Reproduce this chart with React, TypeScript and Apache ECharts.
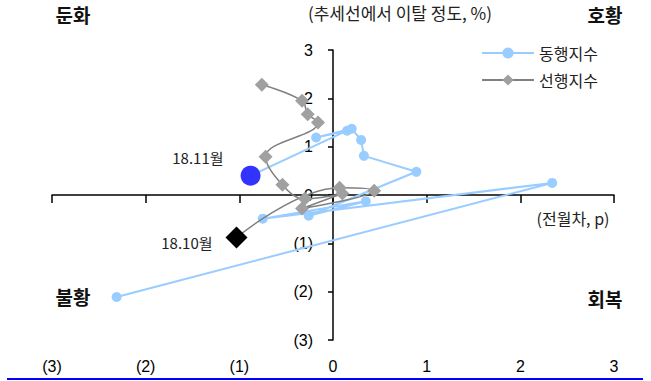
import React, { useEffect, useRef } from "react";
import * as echarts from "echarts";

const coincidentX = [-2.31, 2.34, -0.75, 0.35, -0.26, 0.89, 0.33, 0.30, 0.20, -0.18, 0.15, -0.88];
const coincidentY = [-2.11, 0.25, -0.49, -0.13, -0.43, 0.48, 0.81, 1.14, 1.37, 1.19, 1.33, 0.40];
const leadingX = [-0.76, -0.33, -0.27, -0.16, -0.72, -0.54, -0.30, 0.10, -0.33, 0.44, 0.07, -1.03];
const leadingY = [2.28, 1.95, 1.67, 1.50, 0.79, 0.21, -0.08, 0.03, -0.28, 0.09, 0.15, -0.88];
const seriesNames = ["동행지수", "선행지수"];
const lastLabels = ["18.11월", "18.10월"];
const axisTicks = [-3, -2, -1, 0, 1, 2, 3];

const fmt = (v: number) => (v < 0 ? `(${-v})` : `${v}`);
const FONT = "'Liberation Sans Narrow', 'Liberation Sans', Arial, sans-serif";
const KFONT = "'Noto Sans CJK KR', 'Noto Sans', sans-serif";

export default function App() {
  const ref = useRef<HTMLDivElement>(null);
  useEffect(() => {
    if (!ref.current) return;
    const chart = echarts.init(ref.current, undefined, { renderer: "svg" });
    const n1 = coincidentX.length;
    const blueData = coincidentX.map((x, i) => {
      if (i === n1 - 1) {
        return {
          value: [x, coincidentY[i]],
          symbolSize: 20,
          itemStyle: { color: "#3333ff" },
          label: {
            show: true,
            formatter: lastLabels[0],
            position: "left",
            distance: 17,
            offset: [0, -18],
            fontFamily: KFONT,
            fontSize: 15,
            color: "#222",
          },
        };
      }
      return [x, coincidentY[i]];
    });
    const n2 = leadingX.length;
    const grayData = leadingX.map((x, i) => {
      if (i === n2 - 1) {
        return {
          value: [x, leadingY[i]],
          symbolSize: 22,
          itemStyle: { color: "#000" },
          label: {
            show: true,
            formatter: lastLabels[1],
            position: "left",
            distance: 13,
            offset: [0, 5],
            fontFamily: KFONT,
            fontSize: 15,
            color: "#222",
          },
        };
      }
      return [x, leadingY[i]];
    });
    const cornerText = (text: string, x: number, y: number) => ({
      type: "text",
      x,
      y,
      style: {
        text,
        fontFamily: KFONT,
        fontSize: 19,
        fontWeight: "bold",
        fill: "#111",
        align: "center",
        verticalAlign: "middle",
      },
    });
    chart.setOption({
      animation: false,
      grid: { left: 52, right: 37, top: 50, bottom: 41, containLabel: false },
      legend: {
        orient: "vertical",
        left: 476,
        top: 40,
        itemWidth: 52,
        itemHeight: 14,
        itemGap: 11,
        textStyle: { fontFamily: KFONT, fontSize: 16, color: "#222" },
        data: seriesNames,
      },
      xAxis: [
        {
          type: "value",
          min: -3,
          max: 3,
          interval: 1,
          axisLine: { onZero: true, lineStyle: { color: "#000", width: 1.5 } },
          axisTick: { show: true, length: 8, lineStyle: { color: "#000", width: 1.5 } },
          axisLabel: { show: false },
          splitLine: { show: false },
        },
        {
          type: "value",
          position: "bottom",
          min: -3,
          max: 3,
          interval: 1,
          axisLine: { show: false, onZero: false },
          axisTick: { show: false },
          axisLabel: {
            show: true,
            margin: 18,
            formatter: (v: number) => (axisTicks.includes(v) ? fmt(v) : ""),
            fontFamily: FONT,
            fontSize: 16,
            color: "#000",
          },
          splitLine: { show: false },
        },
      ],
      yAxis: {
        type: "value",
        position: "left",
        offset: -281,
        min: -3,
        max: 3,
        interval: 1,
        axisLine: { show: true, onZero: false, lineStyle: { color: "#000", width: 1.5 } },
        axisTick: { show: true, length: 5, lineStyle: { color: "#000", width: 1.5 } },
        axisLabel: {
          margin: 20,
          formatter: fmt,
          fontFamily: FONT,
          fontSize: 16,
          color: "#000",
        },
        splitLine: { show: false },
      },
      series: [
        {
          name: seriesNames[0],
          type: "line",
          xAxisIndex: 0,
          data: blueData,
          symbol: "circle",
          symbolSize: 10,
          lineStyle: { color: "#99ccff", width: 2 },
          itemStyle: { color: "#99ccff" },
          z: 3,
        },
        {
          name: seriesNames[1],
          type: "line",
          xAxisIndex: 0,
          data: grayData,
          symbol: "diamond",
          symbolSize: 14,
          smooth: 0.4,
          lineStyle: { color: "#808080", width: 1.5 },
          itemStyle: { color: "#a0a0a0" },
          z: 4,
        },
      ],
      graphic: [
        cornerText("둔화", 73, 14),
        cornerText("호황", 605, 14),
        cornerText("불황", 73, 296),
        cornerText("회복", 605, 298),
        {
          type: "text",
          x: 400,
          y: 12,
          style: {
            text: "(추세선에서 이탈 정도, %)",
            fontFamily: KFONT,
            fontSize: 17,
            fill: "#222",
            align: "center",
            verticalAlign: "middle",
          },
        },
        {
          type: "text",
          x: 573,
          y: 218,
          style: {
            text: "(전월차, p)",
            fontFamily: KFONT,
            fontSize: 16,
            fill: "#222",
            align: "center",
            verticalAlign: "middle",
          },
        },
        {
          type: "line",
          shape: { x1: 7, y1: 379, x2: 643, y2: 379 },
          style: { stroke: "#0000ff", lineWidth: 2 },
        },
      ],
    });
    return () => chart.dispose();
  }, []);
  return <div ref={ref} style={{ width: 651, height: 381, position: "absolute", left: 0, top: 0 }} />;
}
